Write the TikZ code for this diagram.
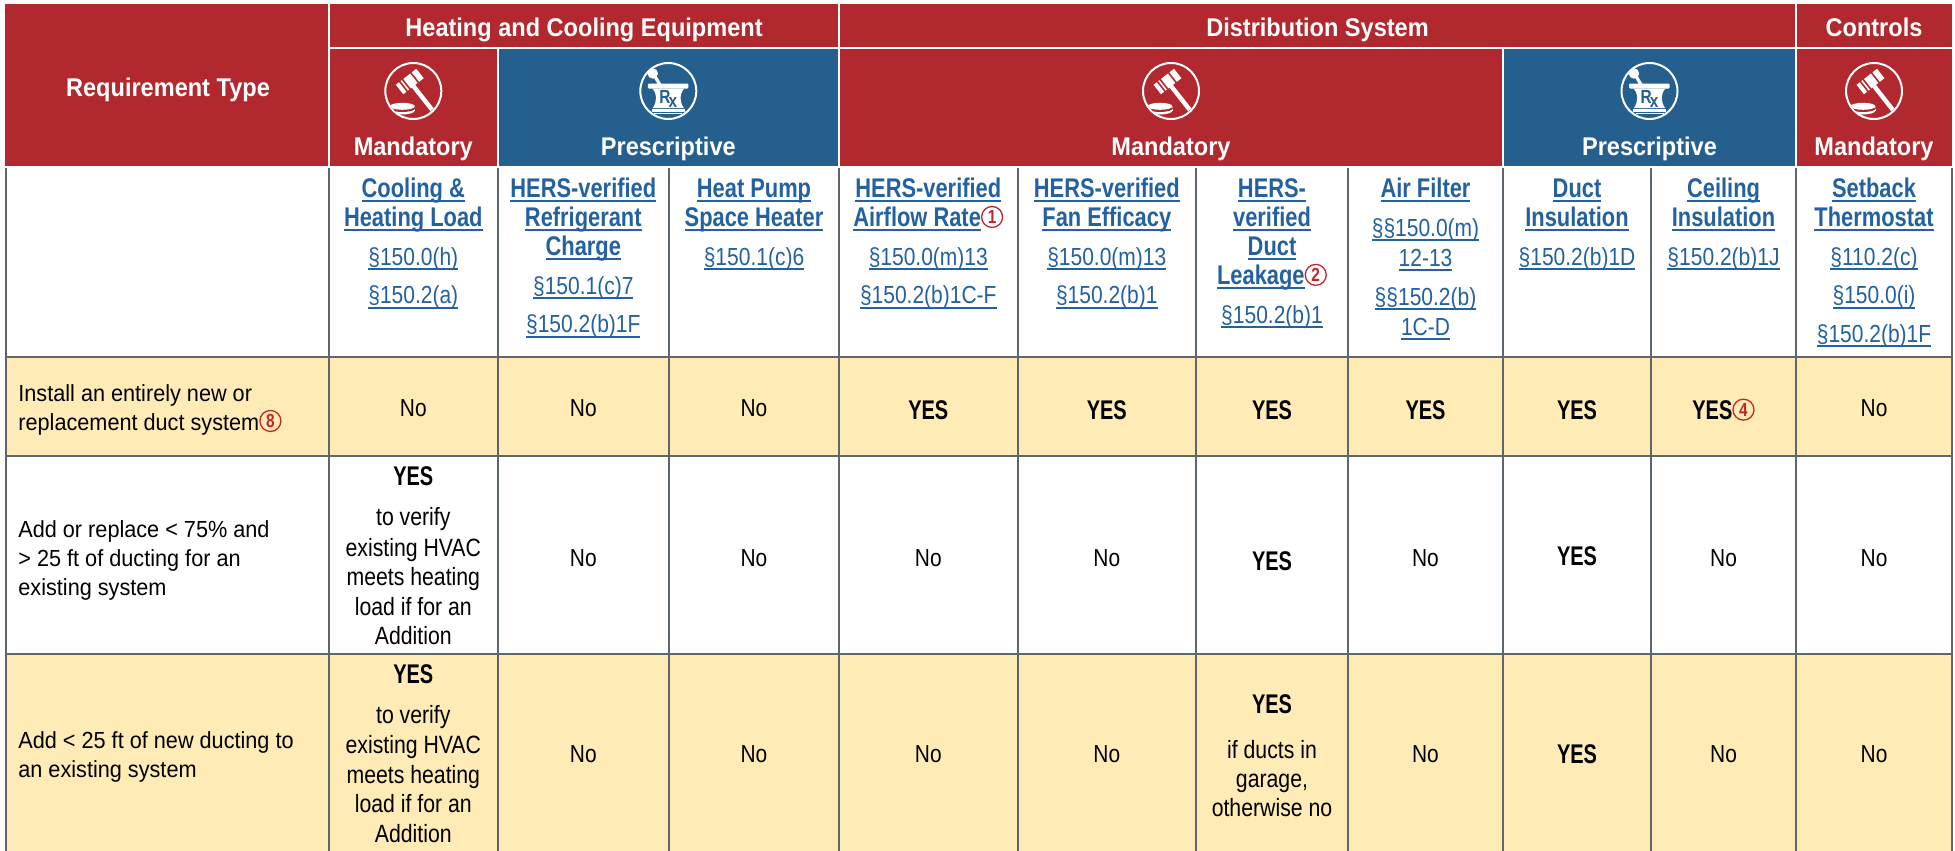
\documentclass[tikz,border=0pt]{standalone}
\usepackage{fontspec}
\setmainfont{Liberation Sans}
\newfontfamily\fHd{Liberation Sans}[FakeStretch=0.92]
\newfontfamily\fTi{Liberation Sans}[FakeStretch=0.81]
\newfontfamily\fRg{Liberation Sans}[FakeStretch=0.85]
\newfontfamily\fLb{Liberation Sans}[FakeStretch=0.93]
\newfontfamily\fYs{Liberation Sans}[FakeStretch=0.74]
\definecolor{hred}{HTML}{B1282E}
\definecolor{hblue}{HTML}{245F8E}
\definecolor{rowy}{HTML}{FFEBB6}
\definecolor{gridc}{HTML}{5E6670}
\definecolor{lnk}{HTML}{2361A0}
\definecolor{cred}{HTML}{C0272D}
\newcommand\uline[1]{\leavevmode\setbox0\hbox{#1}\dp0=0pt\vtop{\box0\kern1.5pt\hrule height0.9pt}}
\newcommand\cnum[1]{\tikz[baseline={([yshift=-1.4pt]cn.base)}]\node[anchor=center,circle,draw=cred,line width=0.65pt,text=cred,inner sep=0pt,minimum size=10.5pt,font=\fTi\bfseries\fontsize{9.5}{9.5}\selectfont](cn){#1};}
\begin{document}
\begin{tikzpicture}[x=0.5pt,y=-0.5pt,
  hd/.style={text=white,font=\fHd\bfseries\fontsize{12.8}{14}\selectfont,inner sep=0pt,anchor=base},
  ti/.style={text=lnk,font=\fTi\bfseries\fontsize{13.5}{14.75}\selectfont,inner sep=0pt,anchor=base},
  rf/.style={text=lnk,font=\fRg\fontsize{12.35}{15}\selectfont,inner sep=0pt,anchor=base},
  no/.style={font=\fRg\fontsize{12.3}{14.75}\selectfont,inner sep=0pt,anchor=base},
  ys/.style={font=\fYs\bfseries\fontsize{13.5}{14}\selectfont,inner sep=0pt,anchor=base},
  sm/.style={font=\fRg\fontsize{12.5}{14.75}\selectfont,inner sep=0pt,anchor=base},
  lb/.style={font=\fLb\fontsize{11.65}{14.5}\selectfont,inner sep=0pt,anchor=base west},
  gavel/.pic={
    \draw[white,line width=1pt] (0,0) circle[radius=14pt];
    \draw[white,line width=2.2pt] (0.2,-4.8) -- (18.75,18.8);
    \fill[white] (10.43,-12.81) -- (3.01,-22.25) -- (-17.43,-6.19) -- (-10.01,3.25) -- cycle;
    \draw[hred,line width=0.8pt] (-5.77,0.55) -- (-13.81,-9.67);
    \draw[hred,line width=0.8pt] (-3.02,-1.61) -- (-11.06,-11.83);
    \draw[hred,line width=0.8pt] (5.4,-8.2) -- (-2.6,-18.4);
    \begin{scope}
      \clip (0,0) circle[radius=13.6pt];
      \fill[white] (-11,19.5) ellipse[x radius=6.25pt,y radius=2pt];
      \fill[white] (-23.5,16) rectangle (1.5,19.5);
      \fill[hred] (-11,17.2) ellipse[x radius=6.5pt,y radius=1.9pt];
      \fill[white] (-11,15.3) ellipse[x radius=6.25pt,y radius=1.75pt];
    \end{scope}
  },
  mortar/.pic={
    \draw[white,line width=1pt] (0,0) circle[radius=14pt];
    \draw[white,line width=1.6pt,line cap=round] (-7,-4) -- (-13,-14);
    \fill[white] (-15.5,-17.5) circle[radius=2.6pt];
    \fill[white,rounded corners=0.5pt] (-20.5,-7.5) rectangle (20,-2.5);
    \fill[white] (-16,-2.5) -- (16,-2.5) .. controls (11,3) and (11,10) .. (15.5,17) -- (-15.5,17) .. controls (-11,10) and (-11,3) .. (-16,-2.5) -- cycle;
    \fill[white] (-16.5,18.3) rectangle (16.5,20.8);
    \fill[white] (-14,22.2) rectangle (14,23.4);
    \node[text=hblue,font=\fTi\bfseries\fontsize{9.5}{9.5}\selectfont,inner sep=0pt] (rx) at (0,7.5) {R\kern-0.1em\raisebox{-0.4ex}{x}};
  }]
\useasboundingbox (0,0) rectangle (1955,851);
\fill[white] (0,0) rectangle (1955,851);
% header backgrounds
\fill[hred] (5,4) rectangle (1952,166);
\fill[hblue] (497.5,48) rectangle (839,166);
\fill[hblue] (1503,48) rectangle (1796,166);
\draw[white,line width=1pt] (329,48) -- (1952,48);
\foreach \x/\t in {329/4,497.5/48,839/4,1503/48,1796/4} \draw[white,line width=1pt] (\x,\t) -- (\x,166);
% body rows
\fill[rowy] (5,357) rectangle (1952,456);
\fill[rowy] (5,654) rectangle (1952,851);
\foreach \x in {5.5,329,497.5,669,839,1017.5,1196,1348,1503,1651,1796,1951.5} \draw[gridc,line width=1pt] (\x,168) -- (\x,851);
\foreach \y in {357,456,654} \draw[gridc,line width=1.25pt] (5,\y) -- (1952,\y);
% header texts
\node[hd] (hReq) at (168,96) {Requirement Type};
\node[hd] (hHCE) at (584,36) {Heating and Cooling Equipment};
\node[hd] (hDist) at (1317.5,36) {Distribution System};
\node[hd] (hCtrl) at (1874,36) {Controls};
\node[hd] (m1) at (413.3,155) {Mandatory};
\node[hd] (p1) at (668.3,155) {Prescriptive};
\node[hd] (m2) at (1171,155) {Mandatory};
\node[hd] (p2) at (1649.5,155) {Prescriptive};
\node[hd] (m3) at (1874,155) {Mandatory};
\pic (ga) at (413.3,91) {gavel};
\pic (mo) at (668.3,91) {mortar};
\pic (gb) at (1171,91) {gavel};
\pic (mp) at (1649.5,91) {mortar};
\pic (gc) at (1874,91) {gavel};
% column titles
\node[ti] (t1a) at (413.3,197.3) {\uline{Cooling \&}};
\node[ti] (t1b) at (413.3,226.3) {\uline{Heating Load}};
\node[rf] (r1a) at (413.3,265.3) {\uline{§150.0(h)}};
\node[rf] (r1b) at (413.3,303.8) {\uline{§150.2(a)}};
\node[ti] (t2a) at (583.3,197.3) {\uline{HERS-verified}};
\node[ti] (t2b) at (583.3,226.3) {\uline{Refrigerant}};
\node[ti] (t2c) at (583.3,255.3) {\uline{Charge}};
\node[rf] (r2a) at (583.3,294.3) {\uline{§150.1(c)7}};
\node[rf] (r2b) at (583.3,332.8) {\uline{§150.2(b)1F}};
\node[ti] (t3a) at (754,197.3) {\uline{Heat Pump}};
\node[ti] (t3b) at (754,226.3) {\uline{Space Heater}};
\node[rf] (r3a) at (754,265.3) {\uline{§150.1(c)6}};
\node[ti] (t4a) at (928.3,197.3) {\uline{HERS-verified}};
\node[ti] (t4b) at (928.3,226.3) {\uline{Airflow Rate}\cnum{1}};
\node[rf] (r4a) at (928.3,265.3) {\uline{§150.0(m)13}};
\node[rf] (r4b) at (928.3,303.8) {\uline{§150.2(b)1C-F}};
\node[ti] (t5a) at (1106.8,197.3) {\uline{HERS-verified}};
\node[ti] (t5b) at (1106.8,226.3) {\uline{Fan Efficacy}};
\node[rf] (r5a) at (1106.8,265.3) {\uline{§150.0(m)13}};
\node[rf] (r5b) at (1106.8,303.8) {\uline{§150.2(b)1}};
\node[ti] (t6a) at (1272,197.3) {\uline{HERS-}};
\node[ti] (t6b) at (1272,226.3) {\uline{verified}};
\node[ti] (t6c) at (1272,255.3) {\uline{Duct}};
\node[ti] (t6d) at (1272,284.3) {\uline{Leakage}\cnum{2}};
\node[rf] (r6a) at (1272,323.3) {\uline{§150.2(b)1}};
\node[ti] (t7a) at (1425.5,197.3) {\uline{Air Filter}};
\node[rf] (r7a) at (1425.5,236.3) {\uline{§§150.0(m)}};
\node[rf] (r7b) at (1425.5,266.3) {\uline{12-13}};
\node[rf] (r7c) at (1425.5,305.3) {\uline{§§150.2(b)}};
\node[rf] (r7d) at (1425.5,335.3) {\uline{1C-D}};
\node[ti] (t8a) at (1577,197.3) {\uline{Duct}};
\node[ti] (t8b) at (1577,226.3) {\uline{Insulation}};
\node[rf] (r8a) at (1577,265.3) {\uline{§150.2(b)1D}};
\node[ti] (t9a) at (1723.5,197.3) {\uline{Ceiling}};
\node[ti] (t9b) at (1723.5,226.3) {\uline{Insulation}};
\node[rf] (r9a) at (1723.5,265.3) {\uline{§150.2(b)1J}};
\node[ti] (t10a) at (1874,197.3) {\uline{Setback}};
\node[ti] (t10b) at (1874,226.3) {\uline{Thermostat}};
\node[rf] (r10a) at (1874,265.3) {\uline{§110.2(c)}};
\node[rf] (r10b) at (1874,303.8) {\uline{§150.0(i)}};
\node[rf] (r10c) at (1874,342.3) {\uline{§150.2(b)1F}};
% row labels
\node[lb] (la1) at (18,401.7) {Install an entirely new or};
\node[lb] (la2) at (18,430.3) {replacement duct system\cnum{8}};
\node[lb] (lb1) at (18,537) {Add or replace < 75\% and};
\node[lb] (lb2) at (18,566) {> 25 ft of ducting for an};
\node[lb] (lb3) at (18,595) {existing system};
\node[lb] (lc1) at (18,748.3) {Add < 25 ft of new ducting to};
\node[lb] (lc2) at (18,777.3) {an existing system};
% row A
\node[no] (a1) at (413.3,416.7) {No};
\node[no] (a2) at (583.3,416.7) {No};
\node[no] (a3) at (754,416.7) {No};
\node[ys] (a4) at (928.3,419) {YES};
\node[ys] (a5) at (1106.8,419) {YES};
\node[ys] (a6) at (1272,419) {YES};
\node[ys] (a7) at (1425.5,419) {YES};
\node[ys] (a8) at (1577,419) {YES};
\node[ys] (a9) at (1723.5,419) {YES\cnum{4}};
\node[no] (a10) at (1874,416.7) {No};
% row B
\node[ys] (b1) at (413.3,485.7) {YES};
\node[sm] (b1a) at (413.3,525.7) {to verify};
\node[sm] (b1b) at (413.3,556) {existing HVAC};
\node[sm] (b1c) at (413.3,585.5) {meets heating};
\node[sm] (b1d) at (413.3,615) {load if for an};
\node[sm] (b1e) at (413.3,644.5) {Addition};
\node[no] (b2) at (583.3,566) {No};
\node[no] (b3) at (754,566) {No};
\node[no] (b4) at (928.3,566) {No};
\node[no] (b5) at (1106.8,566) {No};
\node[ys] (b6) at (1272,570) {YES};
\node[no] (b7) at (1425.5,566) {No};
\node[ys] (b8) at (1577,565) {YES};
\node[no] (b9) at (1723.5,566) {No};
\node[no] (b10) at (1874,566) {No};
% row C
\node[ys] (c1) at (413.3,683.3) {YES};
\node[sm] (c1a) at (413.3,723.3) {to verify};
\node[sm] (c1b) at (413.3,753.6) {existing HVAC};
\node[sm] (c1c) at (413.3,783.1) {meets heating};
\node[sm] (c1d) at (413.3,812.6) {load if for an};
\node[sm] (c1e) at (413.3,842.1) {Addition};
\node[no] (c2) at (583.3,762) {No};
\node[no] (c3) at (754,762) {No};
\node[no] (c4) at (928.3,762) {No};
\node[no] (c5) at (1106.8,762) {No};
\node[ys] (c6) at (1272,713.3) {YES};
\node[sm] (c6a) at (1272,758.3) {if ducts in};
\node[sm] (c6b) at (1272,787.5) {garage,};
\node[sm] (c6c) at (1272,816.7) {otherwise no};
\node[no] (c7) at (1425.5,762) {No};
\node[ys] (c8) at (1577,763) {YES};
\node[no] (c9) at (1723.5,762) {No};
\node[no] (c10) at (1874,762) {No};
\end{tikzpicture}
\end{document}
